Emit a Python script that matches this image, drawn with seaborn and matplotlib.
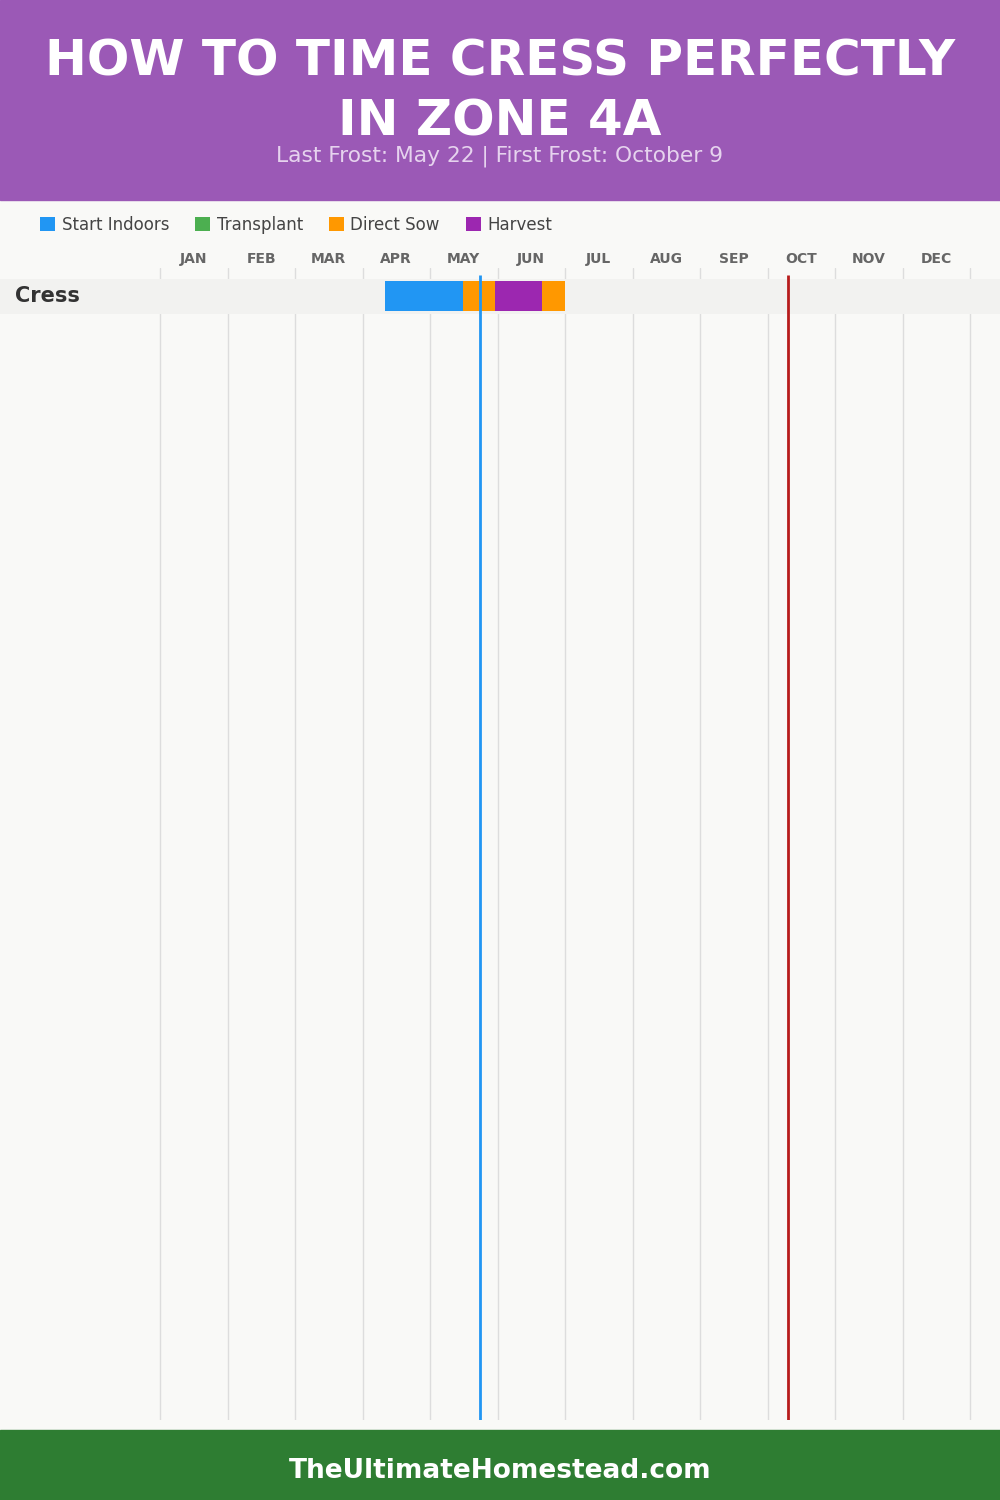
import matplotlib
matplotlib.use("Agg")
import matplotlib.pyplot as plt
import seaborn as sns
from matplotlib.patches import Rectangle, Patch

# ---- data ----
months = ["JAN", "FEB", "MAR", "APR", "MAY", "JUN", "JUL", "AUG", "SEP", "OCT", "NOV", "DEC"]
crops = ["Cress"]
start_indoors = [(3.33, 4.49)]   # (start month, end month)
transplant = [None]
direct_sow = [(4.49, 6.00)]
harvest = [(4.96, 5.66)]
last_frost = 4.74
first_frost = 9.30
legend_labels = ["Start Indoors", "Transplant", "Direct Sow", "Harvest"]
title = "HOW TO TIME CRESS PERFECTLY\nIN ZONE 4A"
subtitle = "Last Frost: May 22 | First Frost: October 9"
footer = "TheUltimateHomestead.com"

colors = {"Start Indoors": "#2196F3", "Transplant": "#4CAF50",
          "Direct Sow": "#FF9800", "Harvest": "#9C27B0"}

sns.set_theme(style="white")
plt.rcParams["font.family"] = ["DejaVu Sans"]

W, H = 1000, 1500
fig = plt.figure(figsize=(10, 15), dpi=100)
fig.patch.set_facecolor("#F9F9F7")

def fy(py):
    return 1 - py / H

# header and footer
fig.patches.append(Rectangle((0, fy(200)), 1, 200 / H, transform=fig.transFigure,
                             color="#9B59B6", zorder=0))
fig.patches.append(Rectangle((0, 0), 1, 70 / H, transform=fig.transFigure,
                             color="#2E7D32", zorder=0))
fig.text(0.5, fy(62), title.split("\n")[0], ha="center", va="center", color="white",
         fontsize=36, fontweight="heavy")
fig.text(0.5, fy(122), title.split("\n")[1], ha="center", va="center", color="white",
         fontsize=36, fontweight="heavy")
fig.text(0.5, fy(156), subtitle, ha="center", va="center", color="#E6D3EE",
         fontsize=15.7)
fig.text(0.5, fy(1471), footer, ha="center", va="center", color="white",
         fontsize=19, fontweight="bold")

# chart axes: x in months, y in rows (1 row unit = 35 px)
top_px, bot_px = 268, 1420
ax = fig.add_axes([0, fy(bot_px), 1, (bot_px - top_px) / H])
ax.set_facecolor("none")
px_per_month = 67.5
ax.set_xlim(-160 / px_per_month, 840 / px_per_month)
unit = 35.0
y_top = -0.8
ax.set_ylim(y_top + (bot_px - top_px) / unit, y_top)
for s in ax.spines.values():
    s.set_visible(False)
ax.set_xticks([])
ax.set_yticks([])

# month grid lines
for m in range(13):
    ax.axvline(m, color="#DDDDDD", lw=1, zorder=1)
# month labels
for i, mname in enumerate(months):
    ax.text(i + 0.5, y_top - 9 / unit, mname, ha="center", va="center",
            fontsize=10, fontweight="bold", color="#666666", clip_on=False)

xmin, xmax = ax.get_xlim()
bar_h = 30 / unit
for r, crop in enumerate(crops):
    ax.add_patch(Rectangle((xmin, r - 0.5), xmax - xmin, 1.0, color="#F2F2F0",
                           zorder=2, lw=0))
    ax.text(15 / px_per_month + xmin, r, crop, ha="left", va="center",
            fontsize=15, fontweight="bold", color="#333333")
    for label, series in zip(legend_labels, [start_indoors, transplant, direct_sow, harvest]):
        seg = series[r]
        if seg is None:
            continue
        ax.barh(r, seg[1] - seg[0], left=seg[0], height=bar_h,
                color=colors[label], zorder=3, lw=0)

# frost lines
ax.vlines(last_frost, y_top + 7 / unit, y_top + (bot_px - top_px) / unit,
          color="#2196F3", lw=2, zorder=4)
ax.vlines(first_frost, y_top + 7 / unit, y_top + (bot_px - top_px) / unit,
          color="#B71C1C", lw=2, zorder=4)

# legend
handles = [Patch(facecolor=colors[l], edgecolor="none", label=l) for l in legend_labels]
fig.legend(handles=handles, loc="center left", bbox_to_anchor=(25 / W, fy(225)),
           ncol=4, frameon=False, fontsize=12, handlelength=0.9, handleheight=0.9,
           handletextpad=0.4, columnspacing=1.55, labelcolor="#444444")

fig.savefig("out.png", dpi=100, facecolor=fig.get_facecolor())
